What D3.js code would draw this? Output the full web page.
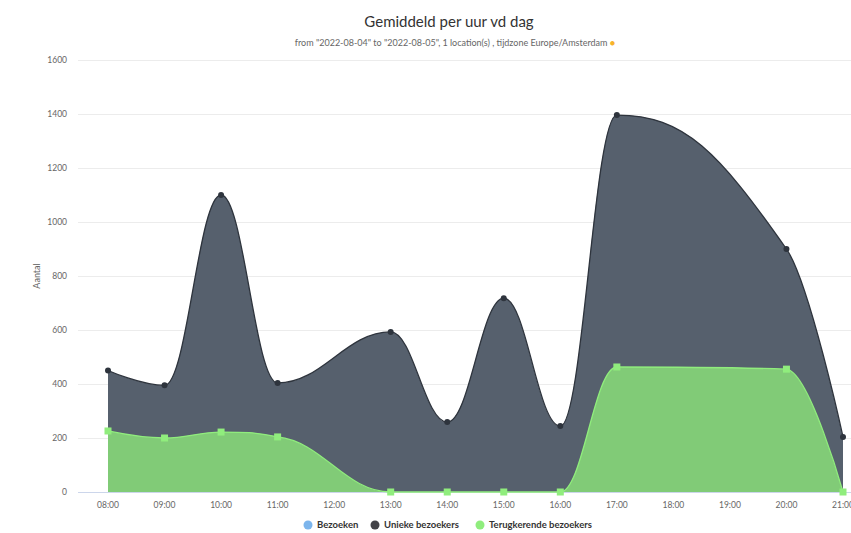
<!DOCTYPE html>
<html>
<head>
<meta charset="utf-8">
<script src="https://cdn.jsdelivr.net/npm/d3@7"></script>
<style>
  body { margin: 0; background: #fff; }
  svg { font-family: Lato, "Open Sans", sans-serif; }
</style>
</head>
<body>
<svg id="chart" width="851" height="533"></svg>
<script>
// hours on the x axis
var categories = ["08:00", "09:00", "10:00", "11:00", "12:00", "13:00", "14:00",
    "15:00", "16:00", "17:00", "18:00", "19:00", "20:00", "21:00"];

// Unieke bezoekers (null = no value, line connects over it)
var unieke = [450, 395, 1100, 404, null, 593, 259, 718, 244, 1396, null, null, 900, 204];

// Terugkerende bezoekers
var terugkerend = [226, 200, 222, 204, null, 0, 0, 0, 0, 463, null, null, 455, 0];

var yTicks = [0, 200, 400, 600, 800, 1000, 1200, 1400, 1600];

var legendItems = [
    { name: "Bezoeken", color: "#7cb5ec" },
    { name: "Unieke bezoekers", color: "#434348" },
    { name: "Terugkerende bezoekers", color: "#90ed7d" }
];

var svg = d3.select("#chart");

var x = d3.scalePoint()
    .domain(categories)
    .range([108, 843]);

var y = d3.scaleLinear()
    .domain([0, 1600])
    .range([492, 60]);

// title + subtitle
svg.append("text")
    .attr("x", 449).attr("y", 27)
    .attr("text-anchor", "middle")
    .style("font-size", "15px")
    .style("fill", "#333")
    .text("Gemiddeld per uur vd dag");

var sub = svg.append("text")
    .attr("x", 455).attr("y", 46)
    .attr("text-anchor", "middle")
    .style("font-size", "9px")
    .style("fill", "#666");
sub.append("tspan").text('from "2022-08-04" to "2022-08-05", 1 location(s) , tijdzone Europe/Amsterdam ');
sub.append("tspan").style("fill", "#f7b32b").text("\u25CF");

// grid
svg.append("g")
    .selectAll("line")
    .data(yTicks)
    .enter().append("line")
    .attr("x1", 78).attr("x2", 851)
    .attr("y1", function (d) { return Math.round(y(d)) + 0.5; })
    .attr("y2", function (d) { return Math.round(y(d)) + 0.5; })
    .style("stroke", function (d) { return d === 0 ? "#ccd6eb" : "#ececec"; })
    .style("stroke-width", 1);

// y labels
svg.append("g")
    .selectAll("text")
    .data(yTicks)
    .enter().append("text")
    .attr("x", 67)
    .attr("y", function (d) { return y(d) + 3; })
    .attr("text-anchor", "end")
    .style("font-size", "8.5px")
    .style("fill", "#666")
    .text(function (d) { return d; });

svg.append("text")
    .attr("transform", "translate(40,276) rotate(-90)")
    .attr("text-anchor", "middle")
    .style("font-size", "9px")
    .style("fill", "#666")
    .text("Aantal");

// x labels
svg.append("g")
    .selectAll("text")
    .data(categories)
    .enter().append("text")
    .attr("x", function (d) { return x(d); })
    .attr("y", 508)
    .attr("text-anchor", "middle")
    .style("font-size", "8.5px")
    .style("fill", "#666")
    .text(function (d) { return d; });

// spline like the one highcharts draws
function splinePath(pts) {
    var smoothing = 1.5, denom = smoothing + 1;
    var out = "";
    pts.forEach(function (p, i) {
        var last = pts[i - 1], next = pts[i + 1];
        var lcx = p.x, lcy = p.y;
        if (last && next) {
            lcx = (smoothing * p.x + last.x) / denom;
            lcy = (smoothing * p.y + last.y) / denom;
            var rcx = (smoothing * p.x + next.x) / denom;
            var rcy = (smoothing * p.y + next.y) / denom;
            var corr = 0;
            if (rcx !== lcx) {
                corr = ((rcy - lcy) * (rcx - p.x)) / (rcx - lcx) + p.y - rcy;
            }
            lcy += corr; rcy += corr;
            if (lcy > last.y && lcy > p.y) { lcy = Math.max(last.y, p.y); rcy = 2 * p.y - lcy; }
            else if (lcy < last.y && lcy < p.y) { lcy = Math.min(last.y, p.y); rcy = 2 * p.y - lcy; }
            if (rcy > next.y && rcy > p.y) { rcy = Math.max(next.y, p.y); lcy = 2 * p.y - rcy; }
            else if (rcy < next.y && rcy < p.y) { rcy = Math.min(next.y, p.y); lcy = 2 * p.y - rcy; }
            p.rcx = rcx; p.rcy = rcy;
        }
        if (i === 0) {
            out += "M" + p.x + "," + p.y;
        } else {
            var c1x = last.rcx !== undefined ? last.rcx : last.x;
            var c1y = last.rcy !== undefined ? last.rcy : last.y;
            out += "C" + c1x + "," + c1y + " " + lcx + "," + lcy + " " + p.x + "," + p.y;
        }
    });
    return out;
}

function toPoints(values) {
    var pts = [];
    values.forEach(function (v, i) {
        if (v !== null) pts.push({ x: x(categories[i]), y: y(v) });
    });
    return pts;
}

function drawSeries(values, fill, stroke) {
    var pts = toPoints(values);
    var line = splinePath(pts);
    var area = line + "L" + pts[pts.length - 1].x + "," + y(0) + "L" + pts[0].x + "," + y(0) + "Z";
    var g = svg.append("g");
    g.append("path").attr("d", area).style("fill", fill).style("stroke", "none");
    g.append("path").attr("d", line).style("fill", "none")
        .style("stroke", stroke).style("stroke-width", 1.3);
    return { g: g, pts: pts };
}

var dark = drawSeries(unieke, "#56606d", "#2e343d");
var green = drawSeries(terugkerend, "#81cb77", "#90ed7d");

dark.g.selectAll("circle")
    .data(dark.pts)
    .enter().append("circle")
    .attr("cx", function (d) { return d.x; })
    .attr("cy", function (d) { return d.y; })
    .attr("r", 3)
    .style("fill", "#2e343d");

green.g.selectAll("rect")
    .data(green.pts)
    .enter().append("rect")
    .attr("x", function (d) { return d.x - 3.5; })
    .attr("y", function (d) { return d.y - 3.5; })
    .attr("width", 7).attr("height", 7)
    .style("fill", "#90ed7d");

// legend
var legendX = [308, 375, 480];
var lg = svg.append("g").selectAll("g")
    .data(legendItems)
    .enter().append("g")
    .attr("transform", function (d, i) { return "translate(" + legendX[i] + ",528)"; });
lg.append("circle").attr("r", 4.5).attr("cy", -3).style("fill", function (d) { return d.color; });
lg.append("text")
    .attr("x", 9)
    .style("font-size", "9.5px")
    .style("font-weight", "bold")
    .style("fill", "#333")
    .text(function (d) { return d.name; });
</script>
</body>
</html>
